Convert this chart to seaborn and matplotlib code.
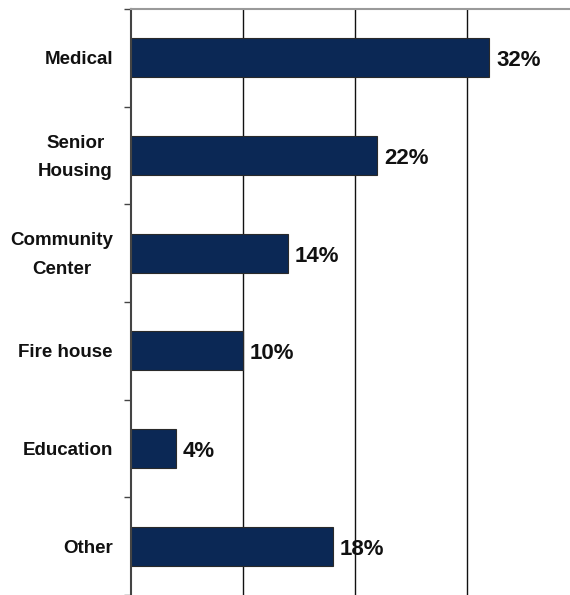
import pandas as pd
import numpy as np
import matplotlib
matplotlib.use("Agg")
import matplotlib.pyplot as plt
import matplotlib.transforms as mtransforms
import seaborn as sns
from matplotlib.ticker import FixedLocator

categories = ["Medical", "Senior\nHousing", "Community\nCenter", "Fire house", "Education", "Other"]
shares = [32, 22, 14, 10, 4, 18]
grid_at = [10, 20, 30]

df = pd.DataFrame({"category": categories, "share": shares})

sns.set_style("white")
plt.rcParams["font.family"] = ["Liberation Sans", "DejaVu Sans"]

fig = plt.figure(figsize=(5.7, 5.95), dpi=100)
ax = fig.add_axes([131 / 570, 0.0, 1 - 131 / 570, 1 - 9 / 595])

sns.barplot(data=df, x="share", y="category", orient="h", width=0.4,
            color="#0b2855", edgecolor="#2a2a2a", linewidth=0.8, saturation=1, ax=ax)

ax.set_xlim(0, 39.2)
ax.set_ylim(len(categories) - 0.5, -0.5)
ax.set_axisbelow(True)
for g in grid_at:
    ax.axvline(g, color="#111111", linewidth=1.0, zorder=0)

ax.set_xticks([])
ax.set_xlabel("")
ax.set_ylabel("")
ax.yaxis.set_minor_locator(FixedLocator(np.arange(-0.5, len(categories), 1.0)))
ax.tick_params(axis="y", which="major", length=0, pad=13)
ax.tick_params(axis="y", which="minor", length=5, width=1.0, color="#444444", direction="out", left=True)
ax.set_yticks(range(len(categories)))
ax.set_yticklabels(categories, fontsize=13.5, fontweight="bold", color="#111111",
                   multialignment="center", linespacing=1.9)

# two-line labels sit a bit higher in the original
shift = mtransforms.ScaledTranslation(0, 0.06, fig.dpi_scale_trans)
for lab in ax.get_yticklabels():
    if "\n" in lab.get_text():
        lab.set_transform(lab.get_transform() + shift)

for i, v in enumerate(shares):
    ax.text(v + 0.6, i + 0.03, f"{v}%", va="center", ha="left", fontsize=16,
            fontweight="bold", color="#111111")

for s in ["right", "bottom"]:
    ax.spines[s].set_visible(False)
ax.spines["left"].set_color("#444444")
ax.spines["left"].set_linewidth(1.5)
ax.spines["top"].set_color("#9a9a9a")
ax.spines["top"].set_linewidth(1.5)

fig.savefig("out.png", dpi=100)
